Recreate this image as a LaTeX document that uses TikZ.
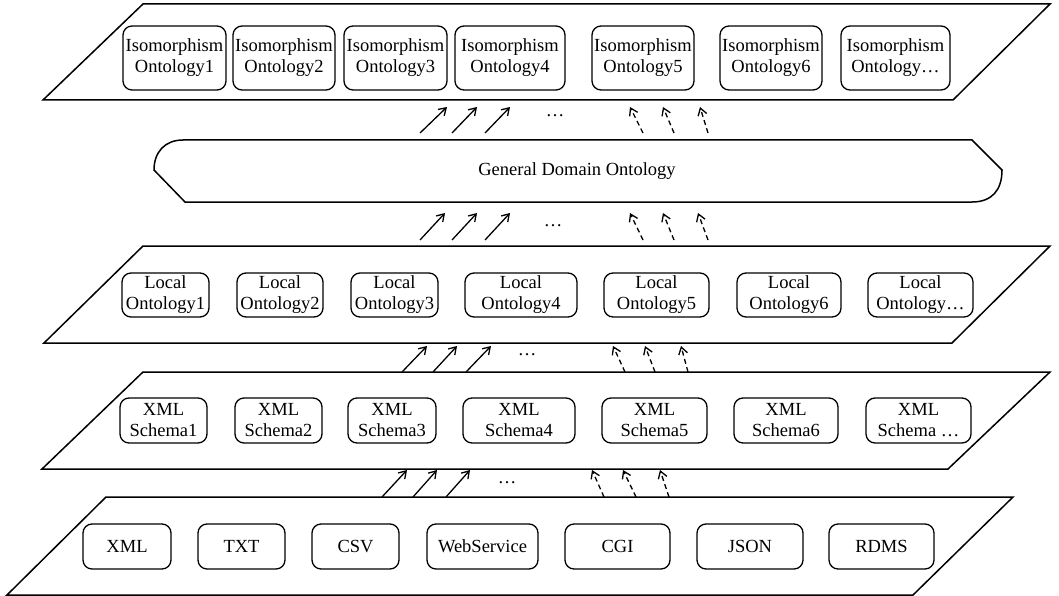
\documentclass[tikz,border=0pt]{standalone}
\usepackage{fontspec}
\setmainfont{Liberation Serif}
\usetikzlibrary{arrows.meta}

\tikzset{
  box/.style={draw,rounded corners=9pt,line width=1.3pt,align=center,inner sep=0pt},
  plane/.style={line width=1.5pt},
  up/.style={line width=1.3pt,-{Straight Barb[length=7pt,width=9pt]}},
  updash/.style={up,dash pattern=on 5pt off 3.5pt},
}

\begin{document}
\begin{tikzpicture}[x=1pt,y=-1pt]
\fontsize{18.5}{21}\selectfont
\useasboundingbox (0,0) rectangle (1059,596);

% layers
\draw[plane] (143,4) -- (1050,4) -- (953,100) -- (43,100) -- cycle;
\draw[plane] (143,246) -- (1050,246) -- (952,343) -- (44,343) -- cycle;
\draw[plane] (143,372) -- (1050,372) -- (948,469) -- (42,469) -- cycle;
\draw[plane] (106,497) -- (1013,497) -- (913,595) -- (7,595) -- cycle;

% general domain ontology
\draw[plane] (183,140) -- (972,140) -- (1002,170)
  .. controls (1002,190) and (992,202) .. (972,202) -- (185,202) -- (154,170)
  .. controls (154,152) and (165,140) .. (183,140) -- cycle;
\node (gdo) at (577,171) {General Domain Ontology};

% boxes
\foreach \x/\w/\n/\t in {174.5/103/1/Isomorphism\\Ontology1,284/102/2/Isomorphism\\Ontology2,
    395.5/103/3/Isomorphism\\Ontology3,510/110/4/Isomorphism\\Ontology4,643/102/5/Isomorphism\\Ontology5,
    771/102/6/Isomorphism\\Ontology6,895.5/109/7/Isomorphism\\Ontology\ldots}
  \node[box,minimum width=\w pt,minimum height=64pt] (iso\n) at (\x,58) {\t};

\foreach \x/\w/\n/\t in {165.5/87/1/Local\\Ontology1,280/86/2/Local\\Ontology2,394.5/87/3/Local\\Ontology3,
    521/112/4/Local\\Ontology4,656.5/105/5/Local\\Ontology5,789/104/6/Local\\Ontology6,
    920.5/105/7/Local\\Ontology\ldots}
  \node[box,minimum width=\w pt,minimum height=44pt] (loc\n) at (\x,295) {\t};

\foreach \x/\w/\n/\t in {163.5/87/1/XML\\Schema1,278.5/87/2/XML\\Schema2,392/88/3/XML\\Schema3,
    519/112/4/XML\\Schema4,654.5/105/5/XML\\Schema5,786/104/6/XML\\Schema6,918.5/105/7/XML\\Schema \ldots}
  \node[box,minimum width=\w pt,minimum height=45pt] (xsd\n) at (\x,420.5) {\t};

\foreach \x/\w/\n/\t in {127/88/1/XML,241.5/87/2/TXT,355.5/87/3/CSV,482.5/111/4/WebService,
    617.5/105/5/CGI,750/106/6/JSON,881.5/105/7/RDMS}
  \node[box,minimum width=\w pt,minimum height=45pt] (src\n) at (\x,546.5) {\t};

% mappings
\foreach \a/\b/\s [count=\i] in {420/447/up,452/477/up,485/510/up,643/630/updash,674/663/updash,708/700/updash}{
  \coordinate (gt\i) at (\a,133);
  \coordinate (gh\i) at (\b,107);
  \draw[\s] (gt\i) -- (gh\i);
}
\node (dots1) at (555,116) {\ldots};

\foreach \a/\b/\s [count=\i] in {420/445/up,452/477/up,485/510/up,643/630/updash,674/663/updash,708/698/updash}{
  \coordinate (lt\i) at (\a,240);
  \coordinate (lh\i) at (\b,213);
  \draw[\s] (lt\i) -- (lh\i);
}
\node (dots2) at (553,226) {\ldots};

\foreach \a/\b/\s [count=\i] in {402/427/up,433/457/up,466/491/up,625/613/updash,655/645/updash,688/681/updash}{
  \coordinate (xt\i) at (\a,372);
  \coordinate (xh\i) at (\b,346);
  \draw[\s] (xt\i) -- (xh\i);
}
\node (dots3) at (527,355) {\ldots};

\foreach \a/\b/\s [count=\i] in {382/407/up,413/437/up,446/470/up,604/592/updash,636/623/updash,669/660/updash}{
  \coordinate (st\i) at (\a,497);
  \coordinate (sh\i) at (\b,470);
  \draw[\s] (st\i) -- (sh\i);
}
\node (dots4) at (507,483) {\ldots};
\end{tikzpicture}
\end{document}
